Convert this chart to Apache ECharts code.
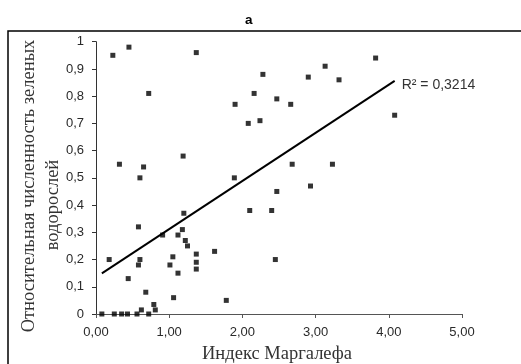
<!DOCTYPE html>
<html><head><meta charset="utf-8">
<script src="https://cdn.jsdelivr.net/npm/echarts@6/dist/echarts.min.js"></script>
<style>html,body{margin:0;padding:0;background:#fff}#c{width:521px;height:364px}</style>
</head><body><div id="c"></div>
<script>
const xValues = [0.23,0.45,1.37,0.72,1.19,0.32,0.65,0.60,0.58,0.18,0.60,0.58,0.44,0.68,0.08,0.25,0.35,0.43,0.56,0.62,0.72,0.79,0.81,0.91,1.20,1.18,1.12,1.22,1.25,1.05,1.01,1.12,1.06,1.37,1.37,1.37,1.62,2.28,2.90,3.13,3.32,2.16,2.47,1.90,2.66,2.08,2.24,2.68,3.23,1.89,2.93,2.47,2.10,2.40,2.45,1.78,3.82,4.08];
const yValues = [0.95,0.98,0.96,0.81,0.58,0.55,0.54,0.50,0.32,0.20,0.20,0.18,0.13,0.08,0,0,0,0,0,0.015,0,0.035,0.015,0.29,0.37,0.31,0.29,0.27,0.25,0.21,0.18,0.15,0.06,0.22,0.19,0.165,0.23,0.88,0.87,0.91,0.86,0.81,0.79,0.77,0.77,0.70,0.71,0.55,0.55,0.50,0.47,0.45,0.38,0.38,0.20,0.05,0.94,0.73];
const trendX = [0.08, 4.08];
const trendY = [0.149, 0.856];
const xTicks = ['0,00','1,00','2,00','3,00','4,00','5,00'];
const yTicks = ['0','0,1','0,2','0,3','0,4','0,5','0,6','0,7','0,8','0,9','1'];
const title = 'a';
const xName = 'Индекс Маргалефа';
const yName1 = 'Относительная численность зеленых';
const yName2 = 'водорослей';
const r2Label = 'R² = 0,3214';

const chart = echarts.init(document.getElementById('c'));
const pts = xValues.map((x,i)=>[x,yValues[i]]);
const tl = trendX.map((x,i)=>[x,trendY[i]]);
const lab = {fontFamily:'Liberation Sans, Arial', fontSize:13, color:'#2a2a2a'};
const serif = '18.5px "Liberation Serif", "Times New Roman", serif';
chart.setOption({
  animation:false,
  title:{text:title,left:240,top:8,textStyle:{fontFamily:'Liberation Sans, Arial',fontSize:13.5,fontWeight:'bold',color:'#000'}},
  graphic:[
    {type:'rect',shape:{x:8,y:31,width:600,height:400},style:{fill:'none',stroke:'#000',lineWidth:1.5},silent:true},
    {type:'text',x:29,y:186,rotation:Math.PI/2,style:{text:yName1,font:serif,fill:'#333',textAlign:'center',textVerticalAlign:'middle'}},
    {type:'text',x:53,y:205,rotation:Math.PI/2,style:{text:yName2,font:serif,fill:'#333',textAlign:'center',textVerticalAlign:'middle'}},
    {type:'text',x:277,y:354,style:{text:xName,font:serif,fill:'#333',textAlign:'center',textVerticalAlign:'middle'}}
  ],
  grid:{left:96,right:59,top:41.7,bottom:50},
  xAxis:{type:'value',min:0,max:5,interval:1,
    axisLine:{lineStyle:{color:'#555',width:1}},
    axisTick:{show:true,length:4,lineStyle:{color:'#555'}},
    splitLine:{show:false},
    axisLabel:Object.assign({margin:12,formatter:(v)=>xTicks[Math.round(v)]},lab)},
  yAxis:{type:'value',min:0,max:1,interval:0.1,
    axisLine:{show:true,lineStyle:{color:'#333',width:1}},
    axisTick:{show:true,length:4,lineStyle:{color:'#333'}},
    splitLine:{show:false},
    axisLabel:Object.assign({margin:12,formatter:(v)=>yTicks[Math.round(v*10)]},lab)},
  series:[
    {type:'scatter',data:pts,symbol:'rect',symbolSize:5,itemStyle:{color:'#000'},z:3},
    {type:'line',data:tl,symbol:'none',lineStyle:{color:'#000',width:2},z:2,
     endLabel:{show:true,formatter:r2Label,fontFamily:'Liberation Sans, Arial',fontSize:14,color:'#333',distance:7,offset:[0,4]}}
  ]
});
</script></body></html>
